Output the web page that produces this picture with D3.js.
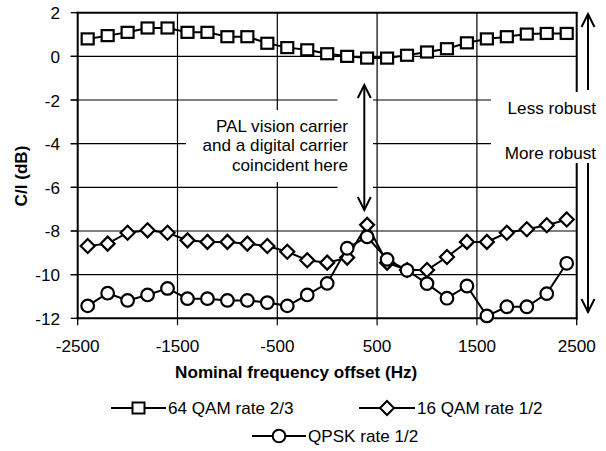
<!DOCTYPE html>
<html><head><meta charset="utf-8">
<script src="https://cdn.jsdelivr.net/npm/d3@7"></script>
<style>body{margin:0;background:#fff} svg{display:block}</style>
</head><body><svg id="c" width="606" height="451"></svg>
<script>
// ---- data ----
const freqs = [-2400,-2200,-2000,-1800,-1600,-1400,-1200,-1000,-800,-600,-400,-200,0,200,400,600,800,1000,1200,1400,1600,1800,2000,2200,2400];
const qam64 = [0.8,0.95,1.1,1.3,1.3,1.1,1.1,0.9,0.9,0.6,0.4,0.3,0.12,0.0,-0.08,-0.08,0.05,0.2,0.35,0.62,0.8,0.9,1.02,1.05,1.05];
const qam16 = [-8.69,-8.58,-8.08,-7.97,-8.08,-8.43,-8.5,-8.5,-8.58,-8.69,-8.95,-9.34,-9.45,-9.22,-7.72,-9.45,-9.79,-9.79,-9.19,-8.5,-8.5,-8.08,-7.92,-7.74,-7.47];
const qpsk  = [-11.43,-10.85,-11.18,-10.93,-10.63,-11.1,-11.1,-11.18,-11.18,-11.28,-11.43,-10.93,-10.4,-8.79,-8.27,-9.3,-9.8,-10.41,-11.08,-10.52,-11.89,-11.47,-11.47,-10.87,-9.48];
const seriesNames = ["64 QAM rate 2/3","16 QAM rate 1/2","QPSK rate 1/2"];
const xTicks = [-2500,-1500,-500,500,1500,2500];
const yTicks = [-12,-10,-8,-6,-4,-2,0,2];
const xTitle = "Nominal frequency offset (Hz)";
const yTitle = "C/I (dB)";
const noteCenter = ["PAL vision carrier","and a digital carrier","coincident here"];
const noteLess = "Less robust", noteMore = "More robust";

// ---- layout ----
const L = 77.7, R = 576.7, T = 12.7, B = 318.3;
const FONT = "'Liberation Sans', Arial, sans-serif";
const SX = 1.07;
const svg = d3.select("#c");
const x = d3.scaleLinear().domain([-2500,2500]).range([L,R]);
const y = d3.scaleLinear().domain([-12,2]).range([B,T]);

function txt(g, s, px, py, anchor, opts={}) {
  return g.append("text")
    .attr("transform", `translate(${px},${py})${opts.rot?` rotate(${opts.rot})`:""} scale(${SX},1)`)
    .attr("text-anchor", anchor)
    .attr("font-family", FONT)
    .attr("font-size", opts.size || 16)
    .attr("font-weight", opts.bold ? "bold" : "normal")
    .attr("fill", "#000")
    .text(s);
}

// gridlines
const grid = svg.append("g").attr("stroke","#000").attr("stroke-width",1.2);
yTicks.filter(v => v > -12 && v < 2).forEach(v => {
  grid.append("line").attr("x1", L-7).attr("x2", R).attr("y1", y(v)).attr("y2", y(v));
});
xTicks.filter(v => v > -2500 && v < 2500).forEach(v => {
  grid.append("line").attr("x1", x(v)).attr("x2", x(v)).attr("y1", T).attr("y2", B+7);
});

// white masks behind annotations
const mask = svg.append("g").attr("fill","#fff");
mask.append("rect").attr("x",186).attr("y",110).attr("width",187).attr("height",72);
mask.append("rect").attr("x",337.5).attr("y",78).attr("width",35.5).attr("height",140);
mask.append("rect").attr("x",491).attr("y",92).attr("width",115).attr("height",71);

// axes & frame
const ax = svg.append("g").attr("stroke","#000").attr("stroke-width",2).attr("fill","none");
ax.append("line").attr("x1",L).attr("x2",L).attr("y1",T-1).attr("y2",B+1);
ax.append("line").attr("x1",L-1).attr("x2",R+1).attr("y1",B).attr("y2",B);
ax.append("line").attr("x1",L-1).attr("x2",R+1).attr("y1",T).attr("y2",T);
ax.append("line").attr("x1",R).attr("x2",R).attr("y1",T).attr("y2",92);
ax.append("line").attr("x1",R).attr("x2",R).attr("y1",163).attr("y2",B+1);
yTicks.forEach(v => ax.append("line").attr("stroke-width",1.3).attr("x1",L-7).attr("x2",L).attr("y1",y(v)).attr("y2",y(v)));
[ -2500, 2500 ].forEach(v => ax.append("line").attr("stroke-width",1.3).attr("x1",x(v)).attr("x2",x(v)).attr("y1",B).attr("y2",B+7));

// tick labels
const tl = svg.append("g");
yTicks.forEach(v => txt(tl, String(v), 60, y(v)+6.5, "end"));
xTicks.forEach(v => txt(tl, String(v), x(v), 352, "middle"));

// titles
txt(svg, xTitle, (L+R)/2 - 31, 378, "middle", {bold:true});
txt(svg, yTitle, 27, 176, "middle", {bold:true, rot:-90});

// series
const symSquare = (g) => g.append("rect").attr("x",-6).attr("y",-5.5).attr("width",12).attr("height",11);
const symDiamond = (g) => g.append("path").attr("d","M0,-7L7,0L0,7L-7,0Z");
const symCircle = (g) => g.append("circle").attr("r",6.3);
const series = [
  {vals: qam64, sym: symSquare},
  {vals: qam16, sym: symDiamond},
  {vals: qpsk,  sym: symCircle}
];
const line = d3.line().x(d => x(d[0])).y(d => y(d[1]));
series.forEach(s => {
  const pts = freqs.map((f,i) => [f, s.vals[i]]);
  const g = svg.append("g");
  g.append("path").attr("d", line(pts)).attr("fill","none").attr("stroke","#000").attr("stroke-width",2);
  pts.forEach(p => {
    const m = g.append("g").attr("transform",`translate(${x(p[0])},${y(p[1])})`)
      .attr("fill","#fff").attr("stroke","#000").attr("stroke-width",2.2);
    s.sym(m);
  });
});

// annotations
const an = svg.append("g");
noteCenter.forEach((s,i) => txt(an, s, 348, 132 + i*19.4, "end"));
txt(an, noteLess, 596, 114, "end");
txt(an, noteMore, 596, 159, "end");
const arr = an.append("g").attr("stroke","#000").attr("stroke-width",2).attr("fill","none");
function vArrow(xp, y1, y2, headTop, headBottom) {
  arr.append("line").attr("x1",xp).attr("x2",xp).attr("y1",y1).attr("y2",y2);
  if (headTop) arr.append("path").attr("d",`M${xp-6.5},${y1+13}L${xp},${y1}L${xp+6.5},${y1+13}`);
  if (headBottom) arr.append("path").attr("d",`M${xp-6.5},${y2-13}L${xp},${y2}L${xp+6.5},${y2-13}`);
}
vArrow(364.3, 85, 210, true, true);
vArrow(588, 14, 90, true, false);
vArrow(588, 163, 312, false, true);

// legend
const lg = svg.append("g");
const legendItems = [
  {name: seriesNames[0], sym: symSquare, x1: 111, x2: 166, tx: 168, ty: 408},
  {name: seriesNames[1], sym: symDiamond, x1: 359, x2: 415, tx: 417, ty: 408},
  {name: seriesNames[2], sym: symCircle, x1: 252, x2: 306, tx: 308, ty: 436}
];
legendItems.forEach(it => {
  lg.append("line").attr("x1",it.x1).attr("x2",it.x2).attr("y1",it.ty).attr("y2",it.ty).attr("stroke","#000").attr("stroke-width",2);
  const m = lg.append("g").attr("transform",`translate(${(it.x1+it.x2)/2},${it.ty})`)
    .attr("fill","#fff").attr("stroke","#000").attr("stroke-width",2);
  it.sym(m);
  txt(lg, it.name, it.tx, it.ty + 6, "start");
});
</script></body></html>
